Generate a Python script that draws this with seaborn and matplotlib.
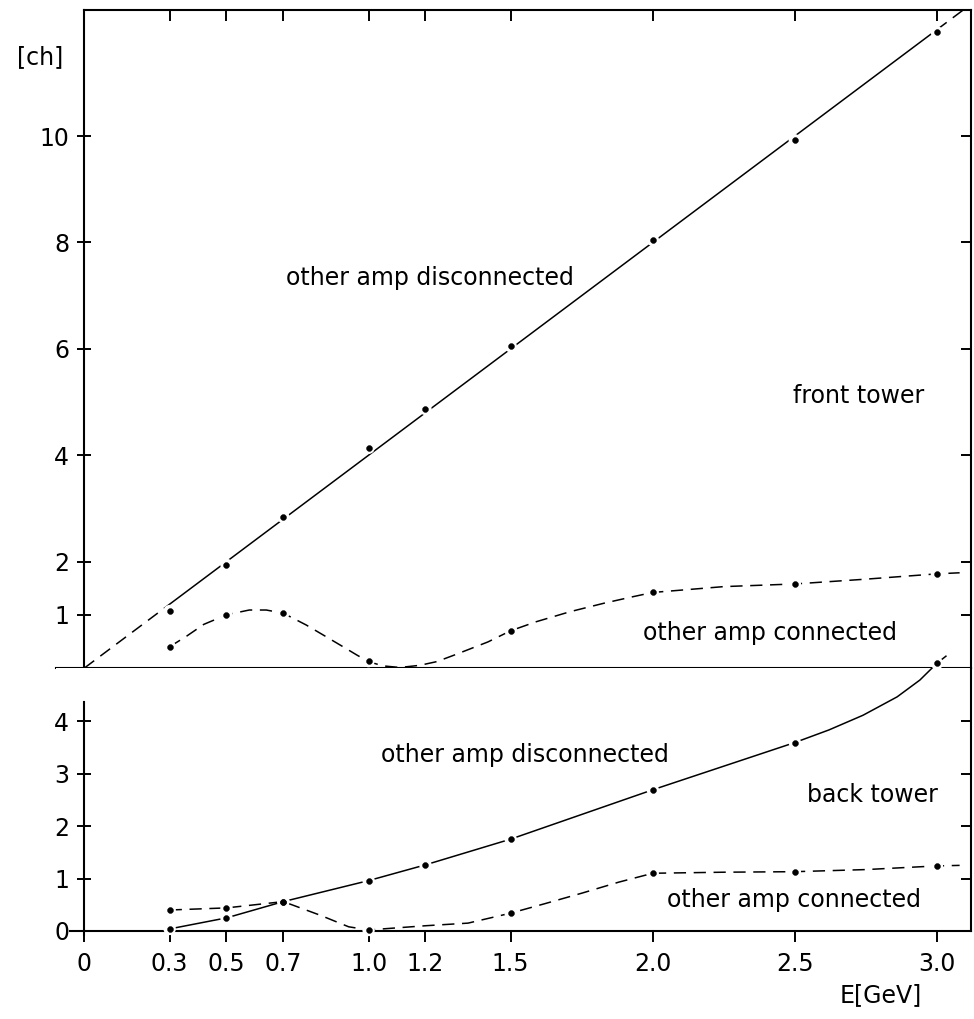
import seaborn as sns
import matplotlib.pyplot as plt

# energies where points were measured
E_pts = [0.3, 0.5, 0.7, 1.0, 1.2, 1.5, 2.0, 2.5, 3.0]
E_conn = [0.3, 0.5, 0.7, 1.0, 1.5, 2.0, 2.5, 3.0]

# front tower
front_disc = [1.07, 1.94, 2.84, 4.14, 4.87, 6.05, 8.05, 9.92, 11.95]
front_conn = [0.40, 1.00, 1.03, 0.13, 0.70, 1.42, 1.58, 1.77]
front_fit_x = [0.3, 3.0]
front_fit_y = [1.2, 12.0]
front_fit_lo_x = [0.0, 0.3]
front_fit_lo_y = [0.0, 1.2]
front_fit_hi_x = [3.0, 3.1]
front_fit_hi_y = [12.0, 12.4]
front_conn_cx = [0.30, 0.36, 0.42, 0.50, 0.58, 0.64, 0.70, 0.78, 0.85, 0.91, 0.96, 1.00, 1.05,
                 1.11, 1.18, 1.24, 1.30, 1.42, 1.50, 1.59, 1.71, 1.83, 1.93, 2.00, 2.25,
                 2.50, 2.75, 3.00, 3.08]
front_conn_cy = [0.40, 0.60, 0.82, 1.00, 1.09, 1.09, 1.03, 0.81, 0.59, 0.40, 0.24, 0.12, 0.04,
                 0.01, 0.05, 0.12, 0.24, 0.49, 0.70, 0.87, 1.06, 1.22, 1.34, 1.42, 1.53,
                 1.58, 1.67, 1.77, 1.79]

# back tower
back_disc = [0.04, 0.25, 0.56, 0.96, 1.26, 1.75, 2.69, 3.59, 5.10]
back_conn = [0.40, 0.44, 0.56, 0.02, 0.34, 1.10, 1.13, 1.24]
back_disc_cx = [0.3, 0.5, 0.7, 1.0, 1.2, 1.5, 2.0, 2.5, 2.62, 2.74, 2.86, 2.94, 3.0]
back_disc_cy = [0.04, 0.25, 0.56, 0.96, 1.26, 1.75, 2.69, 3.59, 3.83, 4.11, 4.46, 4.78, 5.10]
back_disc_hi_x = [3.0, 3.04]
back_disc_hi_y = [5.10, 5.27]
back_conn_cx = [0.3, 0.5, 0.6, 0.7, 0.83, 0.93, 1.0, 1.1, 1.2, 1.35, 1.5, 1.62, 1.75, 1.88,
                2.0, 2.25, 2.5, 2.75, 3.0, 3.08]
back_conn_cy = [0.40, 0.44, 0.50, 0.56, 0.30, 0.08, 0.02, 0.06, 0.10, 0.15, 0.34, 0.52, 0.72,
                0.93, 1.10, 1.12, 1.13, 1.17, 1.24, 1.25]

x_ticks = [0, 0.3, 0.5, 0.7, 1.0, 1.2, 1.5, 2.0, 2.5, 3.0]
x_labels = ["0", "0.3", "0.5", "0.7", "1.0", "1.2", "1.5", "2.0", "2.5", "3.0"]
top_yticks = [1, 2, 4, 6, 8, 10]
bot_yticks = [0, 1, 2, 3, 4]

sns.set_style("ticks")
plt.rcParams["font.family"] = ["DejaVu Sans"]
plt.rcParams["axes.linewidth"] = 1.5
plt.rcParams["xtick.color"] = "black"
plt.rcParams["ytick.color"] = "black"
plt.rcParams["xtick.labelcolor"] = "black"
plt.rcParams["ytick.labelcolor"] = "black"

W, H = 974, 1019
fig = plt.figure(figsize=(W / 100, H / 100), dpi=100)
left, right = 56, 971
ax_top = fig.add_axes([left / W, 1 - 668 / H, (right - left) / W, (668 - 10) / H])
ax_bot = fig.add_axes([left / W, 1 - 931 / H, (right - left) / W, (931 - 668) / H])

XMIN, XMAX = -0.1, 3.12
SOLID = "-"
DASH = (0, (8, 5))


def curve(ax, x, y, ls):
    sns.lineplot(x=x, y=y, ax=ax, color="black", lw=1.1, linestyle=ls,
                 estimator=None, sort=False, clip_on=False, zorder=2)


def dots(ax, x, y):
    sns.scatterplot(x=x, y=y, ax=ax, s=80, color="white", edgecolor="none",
                    zorder=3, clip_on=False)
    sns.scatterplot(x=x, y=y, ax=ax, s=18, color="black", edgecolor="black",
                    zorder=4, clip_on=False)


# top panel
curve(ax_top, front_fit_x, front_fit_y, SOLID)
curve(ax_top, front_fit_lo_x, front_fit_lo_y, DASH)
curve(ax_top, front_fit_hi_x, front_fit_hi_y, DASH)
curve(ax_top, front_conn_cx, front_conn_cy, DASH)
dots(ax_top, E_pts, front_disc)
dots(ax_top, E_conn, front_conn)

# bottom panel
curve(ax_bot, back_disc_cx, back_disc_cy, SOLID)
curve(ax_bot, back_disc_hi_x, back_disc_hi_y, DASH)
curve(ax_bot, back_conn_cx, back_conn_cy, DASH)
dots(ax_bot, E_pts, back_disc)
dots(ax_bot, E_conn, back_conn)

fs = 17
for ax in (ax_top, ax_bot):
    ax.set_xlim(XMIN, XMAX)
    ax.set_xticks(x_ticks)
    ax.set_xlabel("")
    ax.set_ylabel("")
    ax.spines["left"].set_position(("data", 0))
    for s in ax.spines.values():
        s.set_linewidth(1.5)
        s.set_color("black")

ax_top.set_ylim(0, 12.37)
ax_top.set_yticks(top_yticks)
ax_top.set_yticklabels([str(v) for v in top_yticks], fontsize=fs)
ax_top.spines["top"].set_bounds(0, XMAX)
ax_top.tick_params(axis="x", direction="out", length=7, width=1.4,
                   bottom=True, top=False, labelbottom=False)
ax_top.tick_params(axis="y", direction="inout", length=10, width=1.4,
                   left=True, right=False, pad=6)
sec_top = ax_top.secondary_xaxis("top")
sec_top.set_xticks(x_ticks)
sec_top.tick_params(direction="in", length=8, width=1.4, labeltop=False)
sec_top.spines["top"].set_visible(False)
sec_r = ax_top.secondary_yaxis("right")
sec_r.set_yticks(top_yticks)
sec_r.tick_params(direction="in", length=7, width=1.4, labelright=False)
sec_r.spines["right"].set_visible(False)

ax_bot.set_ylim(0, 5.01)
ax_bot.set_yticks(bot_yticks)
ax_bot.set_yticklabels([str(v) for v in bot_yticks], fontsize=fs)
ax_bot.set_xticklabels(x_labels, fontsize=fs)
ax_bot.spines["top"].set_visible(False)
ax_bot.spines["left"].set_bounds(-0.08, 4.36)
ax_bot.spines["bottom"].set_bounds(-0.05, XMAX)
ax_bot.tick_params(axis="x", direction="out", length=8, width=1.4, pad=7)
ax_bot.tick_params(axis="y", direction="inout", length=10, width=1.4,
                   left=True, right=False, pad=6)
sec_br = ax_bot.secondary_yaxis("right")
sec_br.set_yticks([1, 2, 3, 4])
sec_br.tick_params(direction="in", length=7, width=1.4, labelright=False)
sec_br.spines["right"].set_visible(False)

# annotations
kw = dict(fontsize=17, ha="center", va="center", color="black")
ax_top.text(1.217, 7.33, "other amp disconnected", **kw)
ax_top.text(2.726, 5.11, "front tower", **kw)
ax_top.text(2.413, 0.66, "other amp connected", **kw)
ax_bot.text(1.549, 3.35, "other amp disconnected", **kw)
ax_bot.text(2.773, 2.59, "back tower", **kw)
ax_bot.text(2.497, 0.59, "other amp connected", **kw)
fig.text(40 / W, 1 - 57 / H, "[ch]", **kw)
fig.text(881 / W, 1 - 995 / H, "E[GeV]", **kw)

fig.savefig("out.png", dpi=100, facecolor="white")
